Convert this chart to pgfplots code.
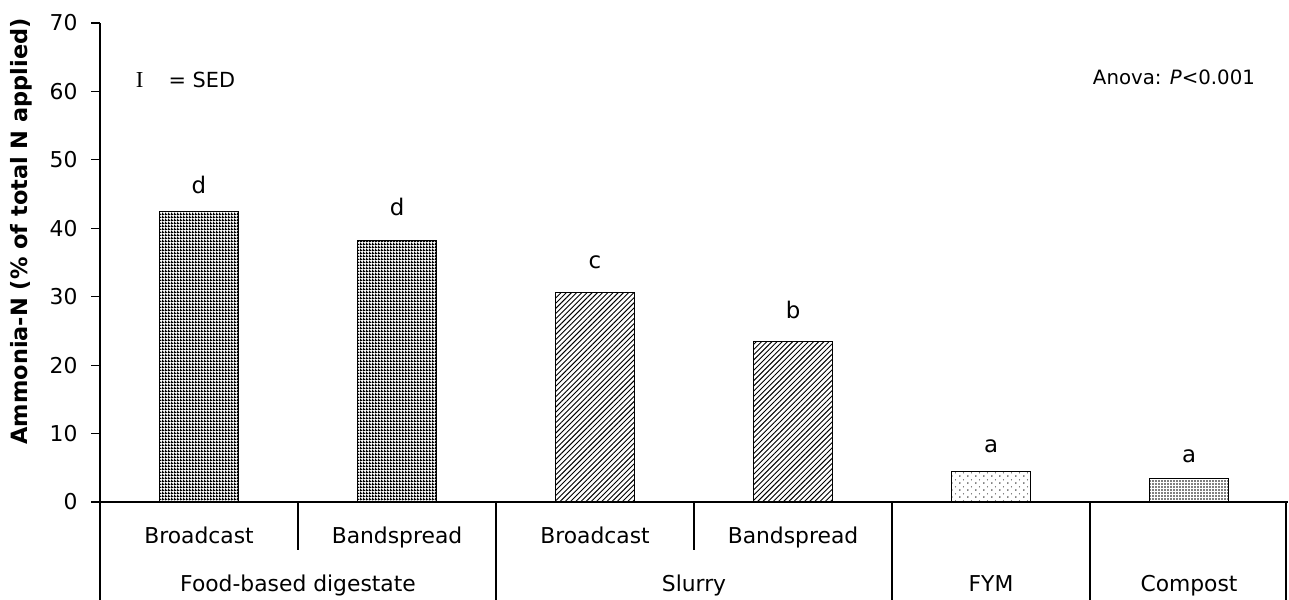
\documentclass[border=0pt]{standalone}
\usepackage{pgfplots}
\pgfplotsset{compat=1.18}
\usepackage{fontspec}
\setmainfont{DejaVu Sans}
\newfontfamily\serifI{Liberation Serif}
\usetikzlibrary{patterns}

% fine textures standing in for the spreadsheet fills
\pgfdeclarepatternformonly{finegrid}{\pgfqpoint{0pt}{0pt}}{\pgfqpoint{1.5pt}{1.5pt}}{\pgfqpoint{1.5pt}{1.5pt}}{%
  \pgfsetlinewidth{0.65pt}%
  \pgfpathmoveto{\pgfqpoint{0pt}{0.4pt}}\pgfpathlineto{\pgfqpoint{1.5pt}{0.4pt}}%
  \pgfpathmoveto{\pgfqpoint{0.4pt}{0pt}}\pgfpathlineto{\pgfqpoint{0.4pt}{1.5pt}}%
  \pgfusepath{stroke}}
\pgfdeclarepatternformonly{finediag}{\pgfqpoint{-0.5pt}{-0.5pt}}{\pgfqpoint{3pt}{3pt}}{\pgfqpoint{2.5pt}{2.5pt}}{%
  \pgfsetlinewidth{0.45pt}%
  \pgfpathmoveto{\pgfqpoint{0pt}{0pt}}\pgfpathlineto{\pgfqpoint{2.5pt}{2.5pt}}%
  \pgfusepath{stroke}}
\pgfdeclarepatternformonly{sparsedots}{\pgfqpoint{0pt}{0pt}}{\pgfqpoint{3.6pt}{3.2pt}}{\pgfqpoint{3.6pt}{3.2pt}}{%
  \pgfpathcircle{\pgfqpoint{1pt}{1pt}}{0.38pt}%
  \pgfpathcircle{\pgfqpoint{2.8pt}{2.6pt}}{0.3pt}%
  \pgfusepath{fill}}
\pgfdeclarepatternformonly{densedots}{\pgfqpoint{0pt}{0pt}}{\pgfqpoint{1.4pt}{1.4pt}}{\pgfqpoint{1.4pt}{1.4pt}}{%
  \pgfpathcircle{\pgfqpoint{0.5pt}{0.5pt}}{0.42pt}%
  \pgfusepath{fill}}

\def\px{0.481pt}

\begin{document}
\begin{tikzpicture}
\begin{axis}[
  name=ax,
  scale only axis,
  width=571.4pt, height=230.4pt,
  xmin=-0.5, xmax=5.5,
  ymin=0, ymax=70,
  ytick={0,10,...,70},
  xtick=\empty,
  axis lines*=left,
  axis line style={line width=0.7pt},
  tick align=outside,
  major tick length=4.3pt,
  tick style={black, line width=0.6pt},
  /pgf/number format/assume math mode=true,
  yticklabel style={font=\fontsize{10.5}{12}\selectfont, xshift=-3pt},
  ylabel={\bfseries Ammonia-N (\% of total N applied)},
  ylabel style={font=\fontsize{10.8}{12}\selectfont, at={(axis description cs:-0.066,0.565)}, anchor=center},
  ybar, bar width=0.4, bar shift=0pt,
  clip=false,
]
\addplot[draw=black, line width=0.5pt, pattern=finegrid] coordinates {(0,42.4) (1,38.2)};
\addplot[draw=black, line width=0.5pt, pattern=finediag] coordinates {(2,30.6) (3,23.5)};
\addplot[draw=black, line width=0.5pt, pattern=sparsedots] coordinates {(4,4.5)};
\addplot[draw=black, line width=0.5pt, pattern=densedots] coordinates {(5,3.4)};

% significance letters
\begin{scope}[every node/.style={font=\fontsize{11}{13}\selectfont}]
\node at (axis cs:0,46.3) {d};
\node at (axis cs:1,43.1) {d};
\node at (axis cs:2,35.1) {c};
\node at (axis cs:3,28.1) {b};
\node at (axis cs:4,8.2) {a};
\node at (axis cs:5,6.7) {a};
\end{scope}

% key and test result
\node at (axis cs:-0.30,61.7) {\serifI\fontsize{11}{13}\selectfont I};
\node[anchor=west, font=\fontsize{10}{12}\selectfont] at (axis cs:-0.19,61.7) {= SED};
\node[anchor=east, font=\fontsize{9.5}{12}\selectfont] at (axis cs:5.37,62.1) {Anova: \textit{P}<0.001};

% two-level category labels
\begin{scope}[every node/.style={font=\fontsize{10.5}{12}\selectfont, anchor=base}]
\node at (axis cs:0,-6.1) {Broadcast};
\node at (axis cs:1,-6.1) {Bandspread};
\node at (axis cs:2,-6.1) {Broadcast};
\node at (axis cs:3,-6.1) {Bandspread};
\node at (axis cs:0.5,-13.1) {Food-based digestate};
\node at (axis cs:2.5,-13.1) {Slurry};
\node at (axis cs:4,-13.1) {FYM};
\node at (axis cs:5,-13.1) {Compost};
\end{scope}
\draw[line width=0.6pt] (axis cs:0.5,0) -- (axis cs:0.5,-7.0);
\draw[line width=0.6pt] (axis cs:2.5,0) -- (axis cs:2.5,-7.0);
\draw[line width=0.6pt] (axis cs:-0.5,0) -- (axis cs:-0.5,-14.3);
\draw[line width=0.6pt] (axis cs:1.5,0) -- (axis cs:1.5,-14.3);
\draw[line width=0.6pt] (axis cs:3.5,0) -- (axis cs:3.5,-14.3);
\draw[line width=0.6pt] (axis cs:4.5,0) -- (axis cs:4.5,-14.3);
\draw[line width=0.6pt] (axis cs:5.49,0) -- (axis cs:5.49,-14.3);
\end{axis}
\pgfresetboundingbox
\path[use as bounding box] ([xshift=-100*\px, yshift=-97*\px]ax.south west) rectangle ([xshift=1*\px, yshift=23*\px]ax.north east);
\end{tikzpicture}
\end{document}
